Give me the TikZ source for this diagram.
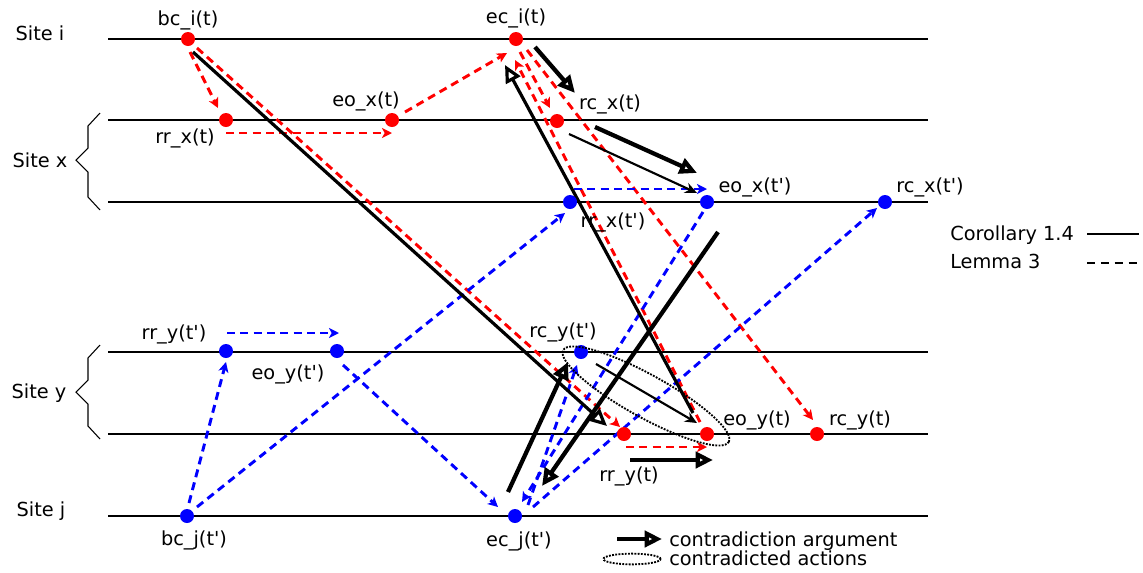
\documentclass[tikz,border=0pt]{standalone}
\usepackage{fontspec}
\newfontfamily\labfont{DejaVu Sans}
\usetikzlibrary{arrows.meta,calc,backgrounds,shapes.geometric}
\begin{document}
\begin{tikzpicture}[x=0.75pt,y=-0.75pt,
  lbl/.style={font=\labfont\fontsize{14.5}{17}\selectfont, inner sep=0pt},
  rdot/.style={circle,fill=red,inner sep=0pt,minimum size=10.5pt},
  bdot/.style={circle,fill=blue,inner sep=0pt,minimum size=10.5pt},
  timeline/.style={line width=2.2pt},
  lemma/.style={dash pattern=on 6pt off 4pt, line width=2.2pt, -{Stealth[length=7.5pt,width=7.5pt,inset=2pt]}},
  rl/.style={lemma, red},
  bl/.style={lemma, blue},
  coro/.style={line width=1.6pt, -{Stealth[length=9pt,width=8pt]}},
  contra/.style={line width=3.2pt, -{Triangle[open,length=13pt,width=12pt]}},
  contram/.style={line width=2.4pt, -{Triangle[open,length=13pt,width=12pt]}},
  bracepath/.style={line width=0.8pt},
  actions/.style={draw, ellipse, densely dotted, line width=1.4pt, inner sep=0pt},
]
\useasboundingbox (0,0) rectangle (1143,572);

% dots
\node[rdot] (bci) at (188,39) {};
\node[rdot] (eci) at (516,39) {};
\node[rdot] (rrxt) at (226,120) {};
\node[rdot] (eoxt) at (392,120) {};
\node[rdot] (rcxt) at (557,121) {};
\node[bdot] (rrxtp) at (570,202) {};
\node[bdot] (eoxtp) at (707,202) {};
\node[bdot] (rcxtp) at (885,202) {};
\node[bdot] (rrytp) at (226,351) {};
\node[bdot] (eoytp) at (337,351) {};
\node[bdot] (rcytp) at (581,352) {};
\node[rdot] (rryt) at (624,434) {};
\node[rdot] (eoyt) at (707,434) {};
\node[rdot] (rcyt) at (817,434) {};
\node[bdot] (bcjtp) at (187,516) {};
\node[bdot] (ecjtp) at (515,516) {};

% labels
\node[lbl] (l-bci) at (188,20) {bc\_i(t)};
\node[lbl] (l-eci) at (516,18) {ec\_i(t)};
\node[lbl] (l-rrxt) at (185,138) {rr\_x(t)};
\node[lbl] (l-eoxt) at (366,101) {eo\_x(t)};
\node[lbl] (l-rcxt) at (610,104) {rc\_x(t)};
\node[lbl] (l-rrxtp) at (613,222) {rr\_x(t')};
\node[lbl] (l-eoxtp) at (755,187) {eo\_x(t')};
\node[lbl] (l-rcxtp) at (930,187) {rc\_x(t')};
\node[lbl] (l-rrytp) at (174,334) {rr\_y(t')};
\node[lbl] (l-eoytp) at (288,374) {eo\_y(t')};
\node[lbl] (l-rcytp) at (563,332) {rc\_y(t')};
\node[lbl] (l-rryt) at (629,476) {rr\_y(t)};
\node[lbl] (l-eoyt) at (757,420) {eo\_y(t)};
\node[lbl] (l-rcyt) at (860,420) {rc\_y(t)};
\node[lbl] (l-bcjtp) at (194,540) {bc\_j(t')};
\node[lbl] (l-ecjtp) at (519,541) {ec\_j(t')};

\node[lbl] (site-i) at (40,33) {Site i};
\node[lbl] (site-x) at (40,160) {Site x};
\node[lbl] (site-y) at (39,393) {Site y};
\node[lbl] (site-j) at (41,511) {Site j};

% contradicted actions
\node[actions, minimum width=142pt, minimum height=32pt, rotate=-29] (contr) at (646,396) {};

% legend
\node[lbl,anchor=west] (cor) at (950,235) {Corollary 1.4};
\node[lbl,anchor=west] (lem) at (950,261) {Lemma 3};
\coordinate (corA) at (1087,234); \coordinate (corB) at (1139,234);
\coordinate (lemA) at (1087,263); \coordinate (lemB) at (1139,263);
\draw[line width=1.5pt] (corA) -- (corB);
\draw[line width=1.5pt, dash pattern=on 6pt off 4.4pt] (lemA) -- (lemB);

\coordinate (legA) at (617,539); \coordinate (legB) at (662,539);
\draw[contra] (legA) -- (legB);
\node[lbl,anchor=base west] (leg1) at (669,546) {contradiction argument};
\node[actions, minimum width=43pt, minimum height=8pt] (legE) at (632,559) {};
\node[lbl,anchor=base west] (leg2) at (669,565) {contradicted actions};

\begin{scope}[on background layer]
% time lines
\foreach \yy in {39,120,202,352,434,516} \draw[timeline] (108,\yy) -- (928,\yy);
% braces
\draw[bracepath] (100,113) -- (88,126) -- (88,148) -- (76,160) -- (88,172) -- (88,197) -- (100,210);
\draw[bracepath] (100,345) -- (88,358) -- (88,380) -- (76,392) -- (88,404) -- (88,426) -- (100,439);

% red dashed (transaction t)
\draw[rl] ($(bci)+(2,13)$) -- ($(rrxt)+(-8,-12)$);
\draw[rl] ($(rrxt)+(0,13)$) -- ($(eoxt)+(0,13)$);
\draw[rl] ($(eoxt)+(13,-8)$) -- ($(eci)+(-9,14)$);
\draw[rl] ($(bci)+(9,9)$) -- ($(rryt)+(-4,-7)$);
\draw[rl] ($(eci)+(4,13)$) -- ($(rcxt)+(-7,-13)$);
\draw[rl] ($(eci)+(11,11)$) -- ($(rcyt)+(-4,-14)$);
\draw[rl] ($(eoyt)+(-7,-12)$) -- ($(eci)+(-1,21)$);
\draw[rl] ($(rryt)+(2,13)$) -- ($(eoyt)+(0,13)$);

% blue dashed (transaction t')
\draw[bl] ($(bcjtp)+(2,-13)$) -- ($(rrytp)+(0,11)$);
\draw[bl] ($(rrytp)+(1,-18)$) -- ($(eoytp)+(2,-18)$);
\draw[bl] ($(eoytp)+(6,14)$) -- ($(ecjtp)+(-17,-9)$);
\draw[bl] ($(bcjtp)+(10,-9)$) -- ($(rrxtp)+(-5,11)$);
\draw[bl] ($(rrxtp)+(4,-13)$) -- ($(eoxtp)+(0,-13)$);
\draw[bl] ($(eoxtp)+(-4,10)$) -- ($(ecjtp)+(7,-14)$);
\draw[bl] ($(ecjtp)+(13,-11)$) -- ($(rcytp)+(-4,13)$);
\draw[bl] ($(ecjtp)+(18,-9)$) -- ($(rcxtp)+(-8,6)$);

% black: corollary and contradiction arguments
\draw[contram] ($(bci)+(5,13)$) -- ($(rryt)+(-17,-8)$);
\draw[contram] ($(eoyt)+(-14,-21)$) -- ($(eci)+(-11,26)$);
\draw[contra] ($(eoxtp)+(11,30)$) -- ($(ecjtp)+(27,-30)$);
\draw[contra] ($(ecjtp)+(-7,-24)$) -- ($(rcytp)+(-13,10)$);
\draw[coro] ($(rcytp)+(15,12)$) -- ($(eoyt)+(-10,-11)$);
\draw[contra] ($(rryt)+(6,26)$) -- ($(eoyt)+(6,26)$);
\draw[coro] ($(rcxt)+(12,13)$) -- ($(eoxtp)+(-10,-9)$);
\draw[contra] ($(eci)+(19,8)$) -- ($(rcxt)+(18,-28)$);
\draw[contra] ($(rcxt)+(38,6)$) -- ($(eoxtp)+(-10,-29)$);
\end{scope}
\end{tikzpicture}
\end{document}
